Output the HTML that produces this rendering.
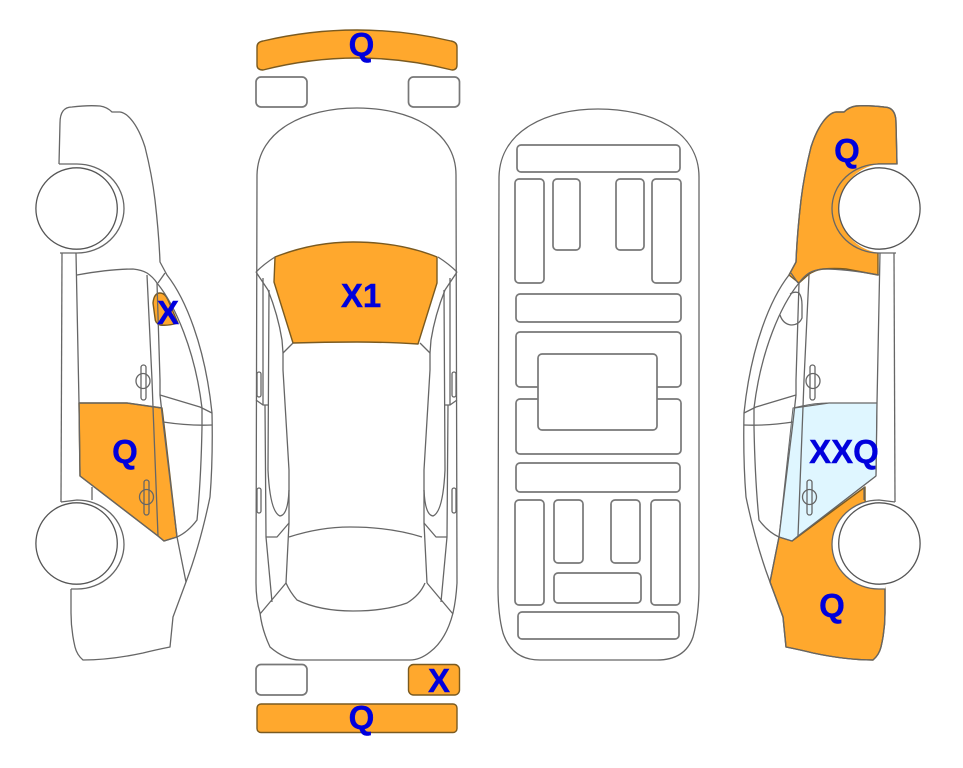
<!DOCTYPE html>
<html><head><meta charset="utf-8"><style>
html,body{margin:0;padding:0;background:#fff;width:963px;height:768px;overflow:hidden}
svg{display:block}
text{font-family:"Liberation Sans",sans-serif;font-weight:bold;font-size:33px;fill:#0000dd;text-anchor:middle;stroke:#0000dd;stroke-width:.4}
.l{fill:none;stroke:#666;stroke-width:1.3;stroke-linejoin:round}
.o{fill:#ffa82d;stroke:#7a5a20;stroke-width:1.4;stroke-linejoin:round}
.r{fill:none;stroke:#777;stroke-width:1.7}
</style></head><body>
<svg width="963" height="768" viewBox="0 0 963 768" xmlns="http://www.w3.org/2000/svg">
<rect width="963" height="768" fill="#fff"/>

<!-- left car fills -->
<path class="o" d="M79,403 L127,403 L162,408 L165,433 L177,537 L164,541 L158,536 L80,476 Z"/>
<path class="o" d="M153,303 Q154,293 160,293 Q165,293 168,300 L178,323 Q168,326 160,325 Q155,323 155,318 Z"/>

<!-- right car fills: follow the mirrored outline -->
<path class="o" d="M897,164 L896,123 Q896,107 884,107 Q868,105 856,106 Q849,107 844,112 L836,112 C828,113 818,125 811,147 Q804,175 801,200 Q797,235 796,262 L789,275 L799,283 L808,275 Q814,270 823,269 Q835,268 846,269 L878,275 L878,164 Z"/>
<path class="o" d="M779,537 L792,541 L865,487 L865,500 L885,589 L885,613 Q885,630 881,647 Q879,655 873,660 Q846,660 813,653 Q801,650 786,647 L783,617 L770,582 Z"/>
<path d="M793,408 L802,406 Q815,403 828,403 L877,403 L876,476 L792,541 L779,537 Z" fill="#dff6ff" stroke="#666" stroke-width="1"/>

<!-- side car line art -->
<g id="side">
<path class="l" d="M59,164 L60,123 Q60,107 72,107 Q88,105 100,106 Q107,107 112,112 L120,112 C128,113 138,125 145,147 Q152,175 155,200 Q159,235 160,262 L167,275 C185,298 205,345 212,413 Q213,460 210,497 Q200,545 186,582 L173,617 L170,647 Q155,650 143,653 Q110,660 83,660 Q77,655 75,647 Q71,630 71,613 L71,589"/>
<path d="M59,164 H77 A47,45 0 0 1 77,253 H60 Z" fill="#fff" stroke="none"/>
<path d="M61,502 L77,500 A47,44.500 0 0 1 77,589 H71 Z" fill="#fff" stroke="none"/>
<path class="l" d="M59,164 H77 A47,44.500 0 0 1 77,253 H60"/>
<path class="l" d="M61,502 L77,500 A47,44.500 0 0 1 77,589 H71"/>
<circle cx="76.600" cy="208.500" r="40.700" fill="#fff" stroke="#555" stroke-width="1.300"/>
<circle cx="76.600" cy="543.500" r="40.700" fill="#fff" stroke="#555" stroke-width="1.300"/>
<path class="l" d="M62,253 L61,502"/>
<path class="l" d="M76,253 L79,403 L80,476"/>
<path class="l" d="M92,487 V500"/>
<path class="l" d="M77,275 Q110,269 133,269 Q142,270 147,273 Q153,277 157,283"/>
<path class="l" d="M158,283 L165,273"/>
<path class="l" d="M157,283 C175,305 195,350 202,408 L202,427 Q201,480 197,520 Q188,532 177,537"/>
<path class="l" d="M147,275 L152,380 L153,407 L158,536"/>
<path class="l" d="M157,283 L160,380 L160,395 L163,422 L177,537 L186,582"/>
<path class="l" d="M160,395 L200,407 L212,413"/>
<path class="l" d="M163,422 Q190,426 212,425"/>
<path class="l" d="M79,403 H127 L162,408"/>
<path class="l" d="M80,476 L158,536 L164,541 L177,537"/>
<rect class="l" x="141" y="365" width="5" height="35" rx="2.500" fill="none"/>
<ellipse class="l" cx="143" cy="381" rx="7" ry="7.500"/>
<rect class="l" x="144" y="480" width="5" height="35" rx="2.500"/>
<ellipse class="l" cx="146.500" cy="497" rx="7" ry="7.500"/>
</g>
<use href="#side" transform="translate(956,0) scale(-1,1)"/>
<path class="l" d="M790,294 Q795,291 799,293 Q802,297 802,305 L802,318 Q799,325 791,325 Q783,324 780,315"/>

<!-- centre car -->
<path class="o" d="M257,47 Q257,42 263,41 Q310,30 357,30 Q404,30 451,41 Q457,42 457,47 L457,65 Q457,70 452,70 Q405,58 357,58 Q310,58 263,70 Q257,70 257,65 Z"/>
<rect class="r" x="256" y="77" width="51" height="30" rx="5"/>
<rect class="r" x="408.500" y="77" width="51" height="30" rx="5"/>
<rect class="r" x="256" y="664.500" width="51" height="30.500" rx="5"/>
<rect class="o" x="408.500" y="664.500" width="51" height="30.500" rx="5"/>
<rect class="o" x="257" y="704" width="200" height="28.500" rx="4"/>

<path class="o" d="M275,257 Q313,242 353,242 Q400,242 437,257 L437,283 L418,344 Q385,342 357,342 Q325,342 293,343 L274,282 Z"/>
<path class="l" d="M257,175 C258,130 305,108 357,108 C409,108 456,130 456,175 L457,583 Q456,600 453,613 Q446,640 430,652 Q420,660 410,660 L300,660 Q285,660 270,647 Q262,630 260,613 Q256,600 256,583 Z"/>
<g id="half">
<path class="l" d="M256,272 Q264,264 275,257"/>
<path class="l" d="M256,272 L268,290 Q278,315 282,340 L283,353 L293,343"/>
<path class="l" d="M283,353 L283,370 L289,470 L289,523 L286,583"/>
<path class="l" d="M286,583 L260,614"/>
<path class="l" d="M263,278 V405"/>
<path class="l" d="M269,290 L268,470 Q270,512 280,516 Q288,515 289,490"/>
<path class="l" d="M256,400 L263,405 H269"/>
<path class="l" d="M265,405 L266,537 L272,602"/>
<path class="l" d="M266,537 H277 L289,523"/>
<rect class="l" x="257" y="372" width="4" height="25" rx="2"/>
<rect class="l" x="257" y="488" width="4" height="25" rx="2"/>
</g>
<use href="#half" transform="translate(713,0) scale(-1,1)"/>
<path class="l" d="M289,537 Q320,527 350,527 Q390,527 422,537"/>
<path class="l" d="M286,583 Q290,592 297,600 Q320,611 353,611 Q385,611 407,603 Q420,595 425,583"/>

<!-- underbody -->
<path class="l" d="M499,177 C500,130 548,109 598,109 C650,109 699,130 699,177 L699,587 Q699,615 693,637 Q685,660 657,660 L540,660 Q512,660 503,633 Q498,615 498,587 Z"/>
<rect class="r" x="517" y="145" width="163" height="27" rx="4"/>
<rect class="r" x="515" y="179" width="29" height="104" rx="4"/>
<rect class="r" x="553" y="179" width="27" height="71" rx="4"/>
<rect class="r" x="616" y="179" width="28" height="71" rx="4"/>
<rect class="r" x="652" y="179" width="29" height="104" rx="4"/>
<rect class="r" x="516" y="294" width="165" height="28" rx="4"/>
<rect class="r" x="516" y="332" width="165" height="55" rx="4"/>
<rect class="r" x="516" y="399" width="165" height="55" rx="4"/>
<rect x="538" y="354" width="119" height="76" rx="4" fill="#fff" stroke="#777" stroke-width="1.700"/>
<rect class="r" x="516" y="463" width="164" height="29" rx="4"/>
<rect class="r" x="515" y="500" width="29" height="105" rx="4"/>
<rect class="r" x="554" y="500" width="29" height="63" rx="4"/>
<rect class="r" x="611" y="500" width="29" height="63" rx="4"/>
<rect class="r" x="651" y="500" width="29" height="105" rx="4"/>
<rect class="r" x="554" y="573" width="87" height="30" rx="4"/>
<rect class="r" x="518" y="612" width="161" height="27" rx="4"/>

<!-- labels -->
<text x="361.500" y="56">Q</text>
<text x="361" y="307">X1</text>
<text x="168" y="324">X</text>
<text x="125" y="463">Q</text>
<text x="847" y="162">Q</text>
<text x="844" y="463">XXQ</text>
<text x="832" y="617">Q</text>
<text x="439" y="692">X</text>
<text x="361.500" y="729">Q</text>
</svg>
</body></html>
